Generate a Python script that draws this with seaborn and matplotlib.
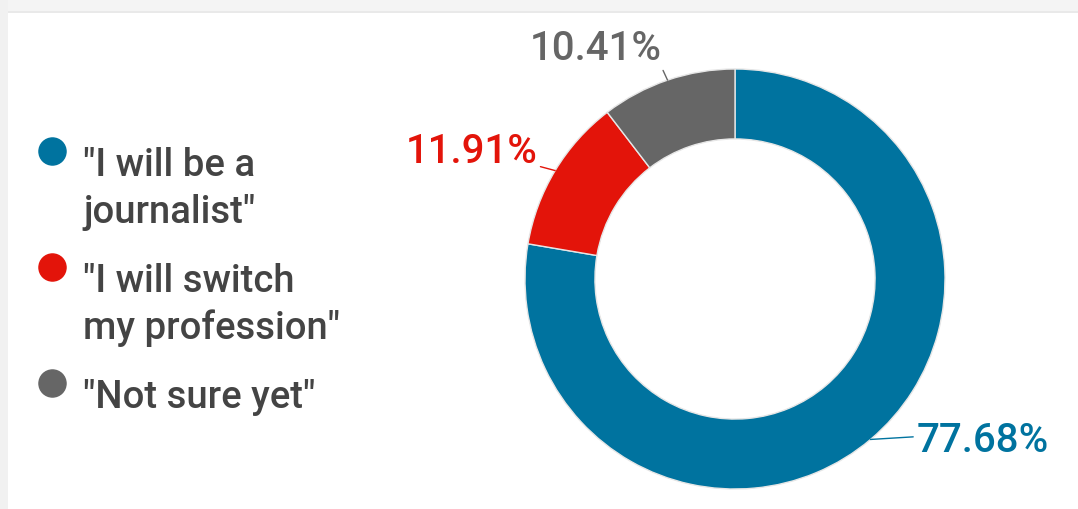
import matplotlib
matplotlib.use("Agg")
import matplotlib.pyplot as plt
from matplotlib.lines import Line2D
from matplotlib.patches import Rectangle
import seaborn as sns
import numpy as np

# ---- data ----
categories = ['"I will be a\njournalist"', '"I will switch\nmy profession"', '"Not sure yet"']
values = [77.68, 11.91, 10.41]
value_labels = ["77.68%", "11.91%", "10.41%"]

# ---- style ----
colors = ["#00739f", "#e3140a", "#666666"]
text_color = "#444444"
label_offsets = [(46, -1), (-18, 20), (-72, 13)]      # pixels from wedge edge midpoint
label_ha = ["left", "right", "center"]
label_va = ["center", "center", "bottom"]
label_relpos = [(0.0, 0.6), (1.0, 0.1), (1.0, 0.0)]

sns.set_theme(style="white")
plt.rcParams["font.family"] = ["Roboto", "DejaVu Sans"]

W, H, DPI = 1078, 510, 100
fig = plt.figure(figsize=(W / DPI, H / DPI), dpi=DPI)
fig.patch.set_facecolor("white")

# frame bands (page chrome)
fig.add_artist(Rectangle((0, 1 - 14 / H), 1, 14 / H, transform=fig.transFigure,
                         facecolor="#f4f4f4", edgecolor="none", zorder=0))
fig.add_artist(Rectangle((0, 1 - 14 / H), 1, 2.5 / H, transform=fig.transFigure,
                         facecolor="#e9e9e9", edgecolor="none", zorder=0))
fig.add_artist(Rectangle((0, 0), 8 / W, 1, transform=fig.transFigure,
                         facecolor="#f1f1f1", edgecolor="none", zorder=0))

# donut axes
cx, cy, R = 735, 280, 210
ax = fig.add_axes([(cx - R) / W, (H - cy - R) / H, 2 * R / W, 2 * R / H])

wedges, _ = ax.pie(values, colors=colors, startangle=90, counterclock=False,
                   radius=1.0, wedgeprops=dict(width=0.333, edgecolor="#e6e6e6", linewidth=1))
ax.set_xlim(-1, 1)
ax.set_ylim(-1, 1)
ax.set_aspect("equal")
ax.axis("off")

for i, w in enumerate(wedges):
    ang = np.deg2rad((w.theta1 + w.theta2) / 2)
    x, y = np.cos(ang), np.sin(ang)
    ax.annotate(value_labels[i], xy=(x, y), xytext=label_offsets[i],
                textcoords="offset pixels", ha=label_ha[i], va=label_va[i],
                fontsize=29, fontweight="medium", color=colors[i],
                arrowprops=dict(arrowstyle="-", color=colors[i], lw=1,
                                shrinkA=0, shrinkB=0, relpos=label_relpos[i]),
                annotation_clip=False)

# legend (manual, marker aligned with first line)
marker_y = [152, 268, 384]
text_x, marker_x = 83, 52
line_gap = 47
for i, lab in enumerate(categories):
    fig.add_artist(Line2D([marker_x / W], [1 - marker_y[i] / H], marker="o",
                          markersize=19.5, color=colors[i], linestyle="none",
                          transform=fig.transFigure))
    for j, line in enumerate(lab.split("\n")):
        fig.text(text_x / W, 1 - (marker_y[i] + 24 + j * line_gap) / H, line,
                 ha="left", va="baseline", fontsize=27.5, fontweight="medium",
                 color=text_color)

fig.savefig("out.png", dpi=DPI)
